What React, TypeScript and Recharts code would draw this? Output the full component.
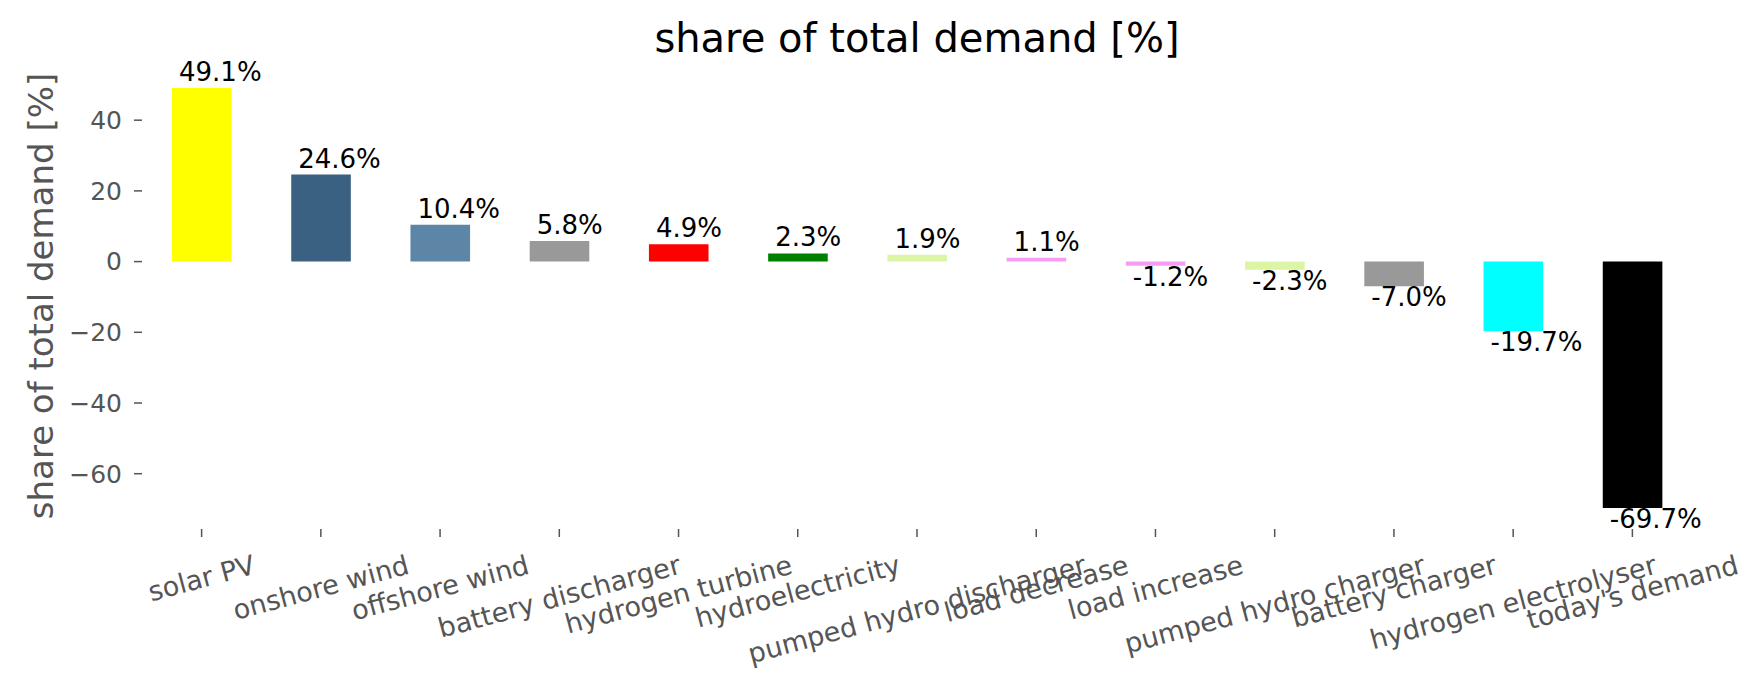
import { BarChart, Bar, XAxis, YAxis, Cell, LabelList } from "recharts";

const categories = [
  "solar PV",
  "onshore wind",
  "offshore wind",
  "battery discharger",
  "hydrogen turbine",
  "hydroelectricity",
  "pumped hydro discharger",
  "load decrease",
  "load increase",
  "pumped hydro charger",
  "battery charger",
  "hydrogen electrolyser",
  "today's demand",
];
const shares = [49.1, 24.6, 10.4, 5.8, 4.9, 2.3, 1.9, 1.1, -1.2, -2.3, -7.0, -19.7, -69.7];
const barColors = [
  "#ffff00",
  "#3b6182",
  "#5d85a6",
  "#999999",
  "#ff0000",
  "#008000",
  "#dbf5a5",
  "#f79cf5",
  "#f79cf5",
  "#dbf5a5",
  "#999999",
  "#00ffff",
  "#000000",
];
const yTicks = [-60, -40, -20, 0, 20, 40];

const data = categories.map((name, i) => ({ name, share: shares[i] }));

// matplotlib style 5% margin around the data (bars include zero)
const lo = Math.min(0, ...shares);
const hi = Math.max(0, ...shares);
const pad = (hi - lo) * 0.05;
const yDomain = [lo - pad, hi + pad];

const FONT = '"DejaVu Sans", sans-serif';
const GREY = "#555555";

let ctx: CanvasRenderingContext2D | null = null;
function textWidth(s: string, size: number) {
  if (!ctx) ctx = document.createElement("canvas").getContext("2d");
  if (!ctx) return s.length * size * 0.6;
  ctx.font = `${size}px ${FONT}`;
  return ctx.measureText(s).width;
}

function RotatedTick({ x, y, payload }: any) {
  const size = 27;
  const w = textWidth(payload.value, size);
  const h = size * 1.164;
  const a = (15 * Math.PI) / 180;
  const boxH = w * Math.sin(a) + h * Math.cos(a);
  const cy = y + 10 + boxH / 2;
  return (
    <g transform={`translate(${x},${cy}) rotate(-15)`}>
      <text x={0} y={size * 0.346} textAnchor="middle" fill={GREY} fontSize={size} fontFamily={FONT}>
        {payload.value}
      </text>
    </g>
  );
}

function ShareLabel(props: any) {
  const { x, y, height, value } = props;
  const top = Math.min(y, y + height);
  const bottom = Math.max(y, y + height);
  const neg = value < 0;
  return (
    <text x={x + 7} y={neg ? bottom + 20 : top - 7} fontSize={26} fontFamily={FONT} fill="#000">
      {Number(value).toFixed(1)}%
    </text>
  );
}

export default function App() {
  return (
    <div style={{ position: "absolute", left: 0, top: 0, width: 1764, height: 689, background: "#fff" }}>
      <BarChart
        width={1764}
        height={689}
        data={data}
        margin={{ top: 67, right: 72, bottom: 10, left: 42 }}
        style={{ fontFamily: FONT }}
      >
        <XAxis
          dataKey="name"
          interval={0}
          height={150}
          axisLine={false}
          tickSize={8}
          tickLine={{ stroke: GREY, strokeWidth: 1.5 }}
          tick={<RotatedTick />}
        />
        <YAxis
          type="number"
          domain={yDomain}
          ticks={yTicks}
          allowDataOverflow
          width={100}
          axisLine={false}
          tickSize={8}
          tickMargin={12}
          tickLine={{ stroke: GREY, strokeWidth: 1.5 }}
          tick={{ fill: GREY, fontSize: 25, fontFamily: FONT }}
          tickFormatter={(v: number) => (v < 0 ? `\u2212${-v}` : `${v}`)}
        />
        <Bar dataKey="share" barSize={59.6} isAnimationActive={false}>
          {data.map((d, i) => (
            <Cell key={d.name} fill={barColors[i]} />
          ))}
          <LabelList dataKey="share" content={<ShareLabel />} />
        </Bar>
      </BarChart>
      <svg width={1764} height={689} style={{ position: "absolute", left: 0, top: 0, pointerEvents: "none" }}>
        <text x={917} y={52} textAnchor="middle" fontSize={40} fontFamily={FONT} fill="#000">
          share of total demand [%]
        </text>
        <text
          x={53}
          y={296}
          textAnchor="middle"
          fontSize={34}
          fontFamily={FONT}
          fill={GREY}
          transform="rotate(-90 53 296)"
        >
          share of total demand [%]
        </text>
      </svg>
    </div>
  );
}
